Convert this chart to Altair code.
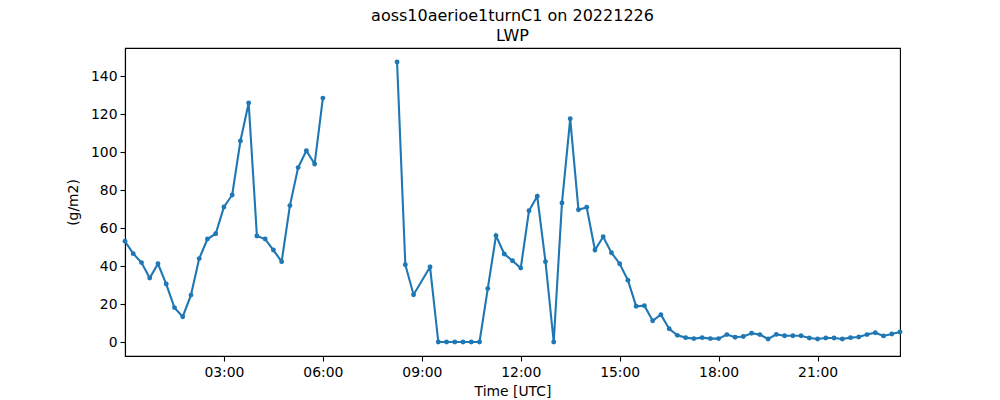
import altair as alt
import pandas as pd

times = [
    "00:00", "00:15", "00:30", "00:45", "01:00", "01:15", "01:30", "01:45",
    "02:00", "02:15", "02:30", "02:45", "03:00", "03:15", "03:30", "03:45",
    "04:00", "04:15", "04:30", "04:45", "05:00", "05:15", "05:30", "05:45",
    "06:00",
    "08:15", "08:30", "08:45", "09:15", "09:30", "09:45",
    "10:00", "10:15", "10:30", "10:45", "11:00", "11:15", "11:30", "11:45",
    "12:00", "12:15", "12:30", "12:45", "13:00", "13:15", "13:30", "13:45",
    "14:00", "14:15", "14:30", "14:45", "15:00", "15:15", "15:30", "15:45",
    "16:00", "16:15", "16:30", "16:45", "17:00", "17:15", "17:30", "17:45",
    "18:00", "18:15", "18:30", "18:45", "19:00", "19:15", "19:30", "19:45",
    "20:00", "20:15", "20:30", "20:45", "21:00", "21:15", "21:30", "21:45",
    "22:00", "22:15", "22:30", "22:45", "23:00", "23:15", "23:30",
]
lwp = [
    53.0, 46.5, 41.8, 33.7, 41.2, 30.5, 18.1, 13.3,
    24.7, 43.9, 54.2, 57.0, 71.1, 77.4, 105.8, 125.8,
    55.8, 54.2, 48.4, 42.3, 71.8, 91.8, 100.7, 93.7,
    128.4,
    147.4, 40.7, 24.9, 39.5, 0.0, 0.0,
    0.0, 0.0, 0.0, 0.0, 28.1, 56.0, 46.3, 42.8,
    38.9, 69.1, 76.7, 42.3, 0.0, 73.2, 117.5, 69.6,
    70.9, 48.4, 55.4, 47.0, 41.2, 32.5, 18.8, 19.1,
    11.2, 14.4, 7.0, 3.5, 2.3, 1.8, 2.3, 1.8,
    1.8, 3.9, 2.5, 2.9, 4.6, 3.9, 1.6, 4.0,
    3.3, 3.3, 3.3, 2.1, 1.6, 2.1, 2.1, 1.6,
    2.3, 2.6, 3.9, 4.9, 3.2, 4.2, 5.3,
]
tick_hours = [3, 6, 9, 12, 15, 18, 21]

df = pd.DataFrame({"time": times, "lwp": lwp})
df["hour"] = df["time"].apply(lambda s: int(s[:2]) + int(s[3:]) / 60)
# a data gap longer than one hour starts a new line segment
df["segment"] = (df["hour"].diff() > 1).cumsum()

FONT = "DejaVu Sans"
BLUE = "#1f77b4"

x = alt.X(
    "hour:Q",
    scale=alt.Scale(domain=[0, 23.5], nice=False, zero=False),
    axis=alt.Axis(
        title="Time [UTC]",
        values=tick_hours,
        labelExpr="pad(toString(datum.value), 2, '0', 'left') + ':00'",
        grid=False,
        tickSize=5,
        labelPadding=4,
        titlePadding=6,
    ),
)
y = alt.Y(
    "lwp:Q",
    scale=alt.Scale(domain=[-7.37, 154.77], nice=False, zero=False),
    axis=alt.Axis(
        title="(g/m2)",
        values=[0, 20, 40, 60, 80, 100, 120, 140],
        grid=False,
        tickSize=5,
        labelPadding=3,
        titlePadding=10,
    ),
)

base = alt.Chart(df)
line = base.mark_line(color=BLUE, strokeWidth=2.1).encode(x=x, y=y, detail="segment:N")
pts = base.mark_circle(color=BLUE, size=24, opacity=1).encode(x=x, y=y)

chart = (
    alt.layer(line, pts)
    .properties(
        width=775,
        height=308,
        title=alt.TitleParams(
            ["aoss10aerioe1turnC1 on 20221226", "LWP"],
            fontSize=16,
            font=FONT,
            fontWeight="normal",
            anchor="middle",
            lineHeight=19.6,
            offset=4,
            color="black",
        ),
        autosize=alt.AutoSizeParams(type="none"),
        padding={"left": 117, "top": 40, "right": 60, "bottom": 60},
    )
    .configure_view(stroke="black", strokeWidth=1.1)
    .configure_axis(
        labelFont=FONT,
        titleFont=FONT,
        labelFontSize=13.9,
        titleFontSize=13.9,
        titleFontWeight="normal",
        labelColor="black",
        titleColor="black",
        tickColor="black",
        domainColor="black",
        tickWidth=1.1,
        domainWidth=1.1,
    )
)

chart.save("out.html", embed_options={"renderer": "svg", "actions": False})
